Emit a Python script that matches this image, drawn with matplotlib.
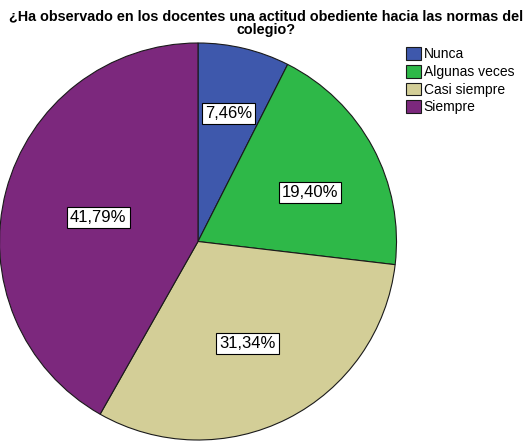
import numpy as np
import matplotlib
matplotlib.use("Agg")
import matplotlib.pyplot as plt

plt.rcParams["font.family"] = ["Liberation Sans", "DejaVu Sans"]

# data
categories = ["Nunca", "Algunas veces", "Casi siempre", "Siempre"]
percentages = [7.46, 19.40, 31.34, 41.79]
colors = ["#3E58AC", "#2EB848", "#D3CE97", "#7C287D"]
title = "¿Ha observado en los docentes una actitud obediente hacia las normas del\ncolegio?"

# label placement (fraction of radius, angle offset in degrees)
label_dist = [0.665, 0.615, 0.57, 0.517]
label_dang = [0.0, -4.8, -0.9, 1.1]

W, H = 524, 441
fig = plt.figure(figsize=(W / 100, H / 100), dpi=100)

# pie centre ~ (198, 241.5) px, radius ~198 px
cx, cy, r = 198, 241.5, 198.5
ax = fig.add_axes([(cx - r) / W, (H - cy - r) / H, 2 * r / W, 2 * r / H])

wedges, _ = ax.pie(
    percentages,
    colors=colors,
    startangle=90,
    counterclock=False,
    radius=1.0,
    wedgeprops=dict(edgecolor="#1a1a1a", linewidth=0.8),
)
ax.set_xlim(-1, 1)
ax.set_ylim(-1, 1)
ax.set_aspect("equal")
ax.axis("off")

for w, pct, d, da in zip(wedges, percentages, label_dist, label_dang):
    ang = np.deg2rad((w.theta1 + w.theta2) / 2 + da)
    ax.text(
        d * np.cos(ang), d * np.sin(ang),
        f"{pct:.2f}%".replace(".", ","),
        ha="center", va="center", fontsize=12,
        bbox=dict(boxstyle="square,pad=0.18", facecolor="white", edgecolor="black", linewidth=0.8),
    )

fig.text(0.507, 0.978, title, ha="center", va="top", fontsize=10.4,
         fontweight="bold", linespacing=0.92)

fig.legend(
    wedges, categories,
    loc="upper left", bbox_to_anchor=(0.757, 0.915),
    frameon=False, fontsize=10,
    handlelength=1.05, handleheight=1.05, handletextpad=0.2,
    labelspacing=0.25, borderpad=0.2,
)

fig.savefig("out.png", dpi=100)
